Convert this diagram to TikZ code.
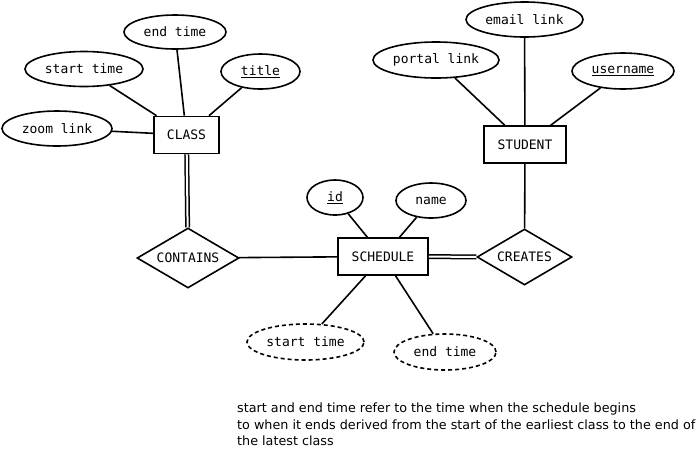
\documentclass[tikz,border=0pt]{standalone}
\usepackage{fontspec}
\setmainfont{DejaVu Sans}
\newfontfamily\ermono{DejaVu Sans Mono}
\usetikzlibrary{shapes.geometric}

\begin{document}
\begin{tikzpicture}[x=1pt,y=-1pt,
    every node/.style={font=\ermono\fontsize{13}{15}\selectfont},
    entity/.style={draw,line width=1.6pt,inner sep=0pt,minimum height=37pt},
    attr/.style={draw,ellipse,line width=1.6pt,inner sep=0pt,minimum height=35pt},
    derived/.style={attr,dash pattern=on 4pt off 3pt},
    rel/.style={draw,diamond,aspect=1.7,line width=1.6pt,inner sep=0pt},
    link/.style={line width=1.6pt},
    total/.style={double,double distance=2pt,line width=1.5pt}]
    \useasboundingbox (0,0) rectangle (700,451);

    % class and its attributes
    \node[entity,minimum width=65pt] (class) at (186.5,135) {CLASS};
    \node[attr,minimum width=110pt] (zoom) at (57,128.5) {zoom link};
    \node[attr,minimum width=118pt] (cstart) at (84,69) {start time};
    \node[attr,minimum width=102pt,minimum height=34pt] (cend) at (175,32) {end time};
    \node[attr,minimum width=79pt] (title) at (260.5,71.5) {\underline{title}};

    % schedule
    \node[rel,minimum width=102pt,minimum height=60pt] (contains) at (188,258) {CONTAINS};
    \node[entity,minimum width=90pt] (schedule) at (383,256.5) {SCHEDULE};
    \node[attr,minimum width=56pt] (id) at (335,197.5) {\underline{id}};
    \node[attr,minimum width=70pt] (name) at (431,200.5) {name};
    \node[derived,minimum width=117pt,minimum height=36pt] (sstart) at (305.5,342) {start time};
    \node[derived,minimum width=102pt,minimum height=36pt] (send) at (445,352) {end time};

    % student
    \node[rel,minimum width=95pt,minimum height=56pt] (creates) at (524.5,257) {CREATES};
    \node[entity,minimum width=82pt] (student) at (525,144.5) {STUDENT};
    \node[attr,minimum width=117pt] (email) at (524.5,19.5) {email link};
    \node[attr,minimum width=126pt,minimum height=36pt] (portal) at (436,60) {portal link};
    \node[attr,minimum width=102pt,minimum height=36pt] (username) at (623,71) {\underline{username}};

    \draw[link] (zoom) -- (class);
    \draw[link] (cstart) -- (class);
    \draw[link] (cend) -- (class);
    \draw[link] (title) -- (class);
    \draw[total] (class) -- (contains);
    \draw[link] (contains) -- (schedule);
    \draw[link] (id) -- (schedule);
    \draw[link] (name) -- (schedule);
    \draw[link] (sstart) -- (schedule);
    \draw[link] (send) -- (schedule);
    \draw[total] (schedule) -- (creates);
    \draw[link] (student) -- (creates);
    \draw[link] (email) -- (student);
    \draw[link] (portal) -- (student);
    \draw[link] (username) -- (student);

    \node[font=\fontsize{12.75}{16.5}\selectfont,align=left,anchor=north west,inner sep=0pt] (note) at (237,403)
        {start and end time refer to the time when the schedule begins\\
         to when it ends derived from the start of the earliest class to the end of\\
         the latest class};
\end{tikzpicture}
\end{document}
